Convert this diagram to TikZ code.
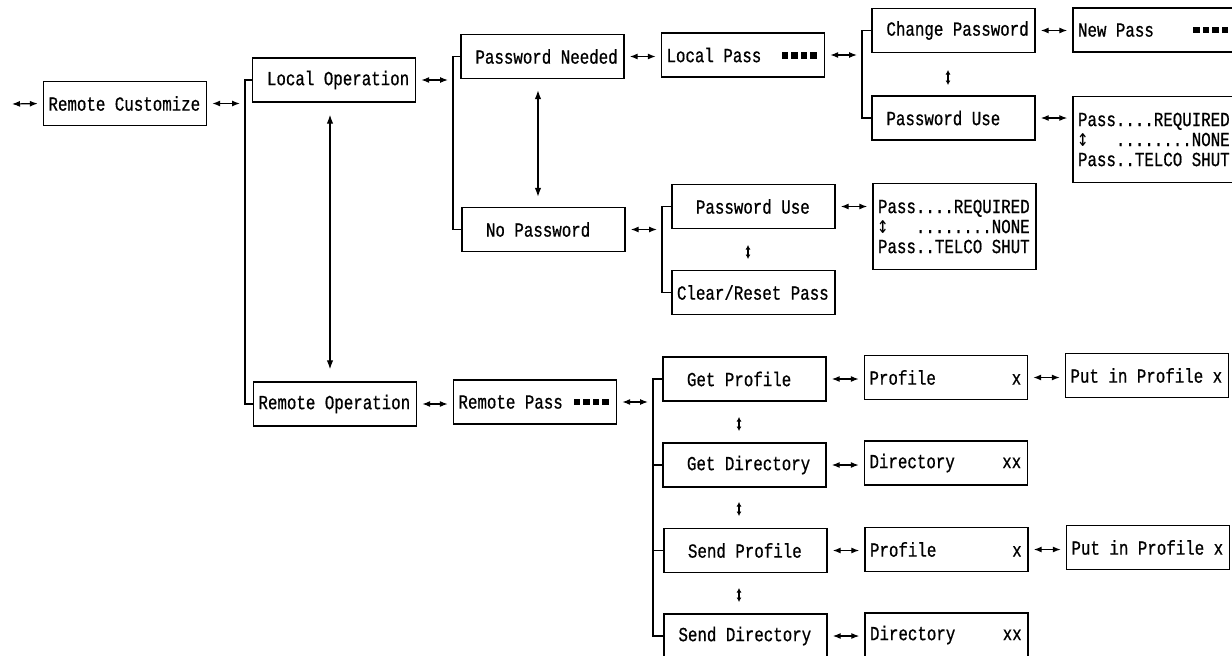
\documentclass[tikz,border=0pt]{standalone}
\usepackage{fontspec}
\usepackage{graphicx}
\usetikzlibrary{arrows.meta}
% condensed monospaced display font
\newfontfamily\lcd[FakeStretch=0.79,FakeBold=0.7]{Liberation Mono}
\newfontfamily\lcdsym[FakeStretch=0.79]{DejaVu Sans Mono}
% every space takes one full character cell
\newcommand\lcdspace{\setbox0\hbox{0}%
  \spaceskip=\wd0 plus 0pt minus 0pt\relax
  \xspaceskip=\wd0 plus 0pt minus 0pt\relax}
% one filled cell of a password mask
\newcommand\blk{\rlap{\hspace{1.5pt}\rule[3.5pt]{6.5pt}{6.5pt}}\phantom{0}}
% scroll mark set in one character cell
\newcommand\scrl{\makebox[\fontcharwd\font`0][c]{\scalebox{1.2}[1.2]{\lcdsym ↕}}}

\begin{document}
\begin{tikzpicture}[x=1pt,y=-1pt,
  lcdbox/.style={draw, rectangle, line width=1.4pt, minimum width=163pt, minimum height=44pt,
    text width=153pt, inner xsep=5pt, inner ysep=0pt, align=left,
    font=\lcd\fontsize{20}{20}\selectfont, execute at begin node=\lcdspace},
  optbox/.style={lcdbox, minimum height=86pt, font=\lcd\fontsize{20}{20}\selectfont},
  link/.style={{Latex[length=8pt,width=6pt]}-{Latex[length=8pt,width=6pt]},
    line width=1.2pt, shorten <=5pt, shorten >=5pt},
  vlink/.style={{Latex[length=9pt,width=6.5pt]}-{Latex[length=9pt,width=6.5pt]}, line width=1.2pt},
  scroll/.style={{Latex[length=4.5pt,width=5pt]}-{Latex[length=4.5pt,width=5pt]}, line width=1.2pt},
  bracket/.style={line width=1.3pt}]

\fill[white] (0,0) rectangle (1232,656);
\useasboundingbox (0,0) rectangle (1232,656);
\clip (0,0) rectangle (1232,656);

% top level
\node[lcdbox] (rc) at (125,103.5) {Remote Customize};
\node[lcdbox] (lo) at (334,80) {~Local Operation};
\node[lcdbox] (ro) at (335,404) {Remote Operation};

% local branch
\node[lcdbox] (pn) at (542.5,56.5) {~Password Needed};
\node[lcdbox] (np) at (543.5,229.5) {~~No Password};
\node[lcdbox] (lp) at (743,55) {Local Pass~~\blk\blk\blk\blk};
\node[lcdbox] (cp) at (953.5,30.5) {~Change Password};
\node[lcdbox] (pu1) at (953.5,118) {~Password Use};
\node[lcdbox] (nw) at (1154.5,30) {New Pass~~~~\blk\blk\blk\blk};
\node[optbox] (opt1) at (1154.5,139.5) {Pass....REQUIRED\\\scrl~~~........NONE\\Pass..TELCO SHUT};
\node[lcdbox] (pu2) at (753.5,206.5) {~~Password Use};
\node[lcdbox] (cr) at (753.5,292.5) {Clear/Reset Pass};
\node[optbox] (opt2) at (954.5,226.5) {Pass....REQUIRED\\\scrl~~~........NONE\\Pass..TELCO SHUT};

% remote branch
\node[lcdbox] (rp) at (535,402) {Remote Pass~\blk\blk\blk\blk};
\node[lcdbox] (gp) at (744.5,379) {~~Get Profile};
\node[lcdbox] (gd) at (744.5,465) {~~Get Directory};
\node[lcdbox] (sp) at (745.5,550.5) {~~Send Profile};
\node[lcdbox] (sd) at (745.5,636) {~Send Directory};
\node[lcdbox] (pf1) at (946,377.5) {Profile~~~~~~~~x};
\node[lcdbox] (dr1) at (946,463) {Directory~~~~~xx};
\node[lcdbox] (pf2) at (946.5,549.5) {Profile~~~~~~~~x};
\node[lcdbox] (dr2) at (946.5,635) {Directory~~~~~xx};
\node[lcdbox] (pip1) at (1147,375.5) {Put in Profile x};
\node[lcdbox] (pip2) at (1148,547.5) {Put in Profile x};

% bracket columns and fixed points
\coordinate (inA) at (12,104);
\coordinate (brA) at (245,0);
\coordinate (brB) at (453,0);
\coordinate (brC) at (862,0);
\coordinate (brD) at (662,0);
\coordinate (brE) at (653,0);
\coordinate (vA) at (330,0);
\coordinate (vB) at (538,0);

% brackets
\draw[bracket] (lo.west) -- (lo.west -| brA) -- (ro.west -| brA) -- (ro.west);
\draw[bracket] (pn.west) -- (pn.west -| brB) -- (np.west -| brB) -- (np.west);
\draw[bracket] (cp.west) -- (cp.west -| brC) -- (pu1.west -| brC) -- (pu1.west);
\draw[bracket] (pu2.west) -- (pu2.west -| brD) -- (cr.west -| brD) -- (cr.west);
\draw[bracket] (gp.west) -- (gp.west -| brE) -- (sd.west -| brE) -- (sd.west);
\draw[bracket] (gd.west) -- (gd.west -| brE);
\draw[bracket] (sp.west) -- (sp.west -| brE);

% horizontal links
\draw[link, shorten <=0pt] (inA) -- (rc.west);
\draw[link] (rc.east) -- (rc.east -| brA);
\draw[link] (lo.east) -- (lo.east -| brB);
\draw[link] (ro.east) -- (ro.east -| rp.west);
\draw[link] (rp.east) -- (rp.east -| brE);
\draw[link] (pn.east) -- (pn.east -| lp.west);
\draw[link] (lp.east) -- (lp.east -| brC);
\draw[link] (np.east) -- (np.east -| brD);
\draw[link] (cp.east) -- (cp.east -| nw.west);
\draw[link] (pu1.east) -- (pu1.east -| opt1.west);
\draw[link] (pu2.east) -- (pu2.east -| opt2.west);
\draw[link] (gp.east) -- (gp.east -| pf1.west);
\draw[link] (pf1.east) -- (pf1.east -| pip1.west);
\draw[link] (gd.east) -- (gd.east -| dr1.west);
\draw[link] (sp.east) -- (sp.east -| pf2.west);
\draw[link] (pf2.east) -- (pf2.east -| pip2.west);
\draw[link] (sd.east) -- (sd.east -| dr2.west);

% vertical links
\draw[vlink, shorten <=12pt, shorten >=12pt] (lo.south -| vA) -- (ro.north -| vA);
\draw[vlink, shorten <=11pt, shorten >=10pt] (pn.south -| vB) -- (np.north -| vB);

% scroll marks between stacked entries
\coordinate (u1a) at (948,70);  \coordinate (u1b) at (948,85);
\coordinate (u2a) at (748,245); \coordinate (u2b) at (748,259);
\coordinate (u3a) at (739,417); \coordinate (u3b) at (739,431);
\coordinate (u4a) at (739,502); \coordinate (u4b) at (739,516);
\coordinate (u5a) at (739,588); \coordinate (u5b) at (739,602);
\draw[scroll] (u1a) -- (u1b);
\draw[scroll] (u2a) -- (u2b);
\draw[scroll] (u3a) -- (u3b);
\draw[scroll] (u4a) -- (u4b);
\draw[scroll] (u5a) -- (u5b);
\end{tikzpicture}
\end{document}
